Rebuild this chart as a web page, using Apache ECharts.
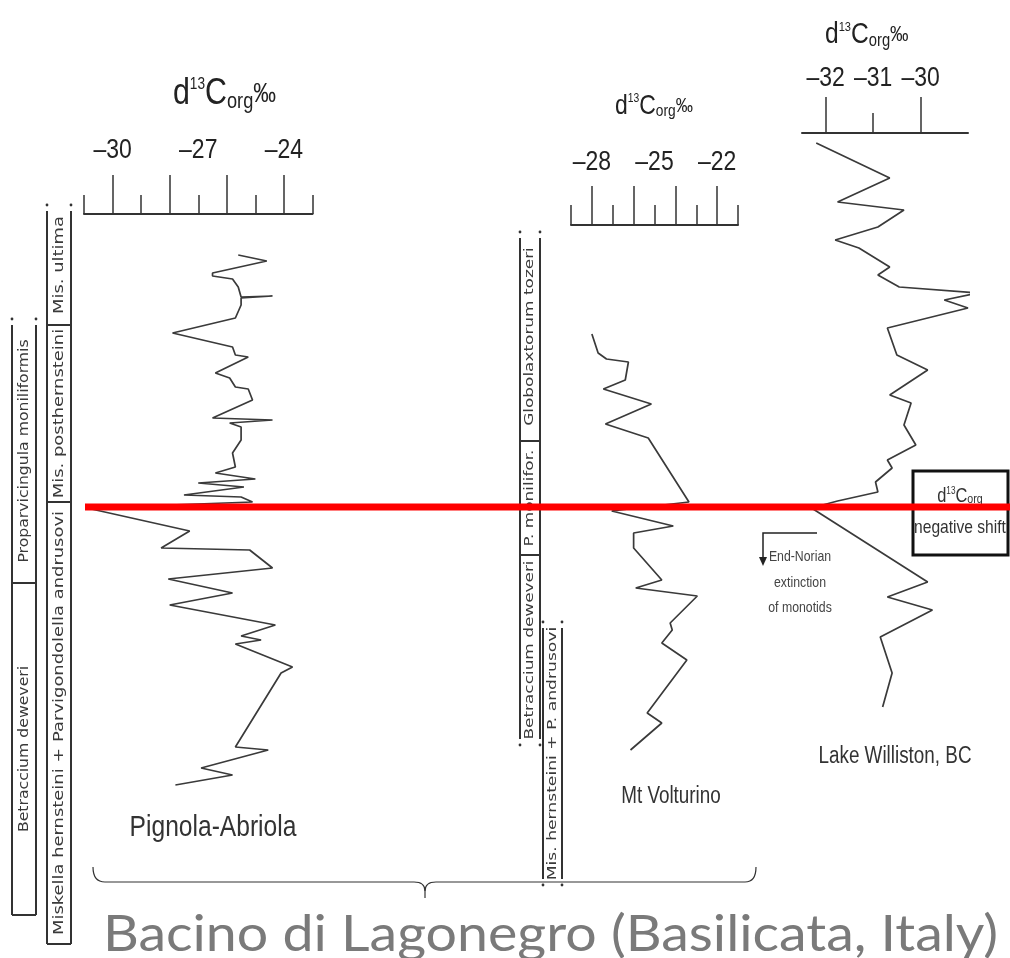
<!DOCTYPE html>
<html lang="en">
<head>
  <meta charset="UTF-8">
  <script src="https://cdn.jsdelivr.net/npm/echarts@6/dist/echarts.min.js"></script>
  <style>
    html, body { margin: 0; padding: 0; background: #fff; }
    #chart { width: 1010px; height: 958px; }
  </style>
</head>
<body>
  <div id="chart"></div>
  <script>
    // stratigraphic level: 0 = boundary (red line), positive upward, arbitrary units
    const pignolaD13C = [-25.6, -24.6, -26.5, -26.5, -25.8, -25.6, -25.5, -24.4, -25.5, -25.5, -25.7, -27.9, -25.8, -25.7, -25.25, -26.4, -25.9, -25.7, -25.25, -25.1, -26.5, -24.4, -25.9, -25.5, -25.5, -25.8, -25.7, -26.4, -25.0, -27.0, -25.4, -27.5, -25.5, -25.1, -30.9, -27.3, -28.3, -25.2, -24.4, -28.05, -25.8, -28.0, -24.3, -25.5, -24.8, -25.7, -23.7, -24.1, -25.7, -24.55, -26.9, -25.8, -27.8];
    const pignolaLevel = [25.2, 24.6, 23.4, 23.1, 22.8, 22.0, 21.0, 21.1, 20.9, 20.2, 18.9, 17.4, 16.0, 15.2, 15.0, 13.4, 12.9, 12.0, 11.8, 10.7, 8.9, 8.7, 8.4, 8.0, 6.7, 5.4, 4.0, 3.4, 2.8, 2.4, 2.0, 1.2, 1.0, 0.5, -0.1, -2.4, -4.1, -4.3, -6.1, -7.2, -8.6, -9.8, -11.8, -12.9, -13.3, -13.7, -16.0, -16.6, -24.0, -24.3, -26.1, -26.8, -27.8];

    const volturinoD13C = [-28.0, -27.7, -27.3, -26.25, -26.4, -27.45, -25.15, -27.35, -25.3, -23.35, -27.05, -24.1, -26.0, -26.0, -24.65, -25.9, -22.95, -24.25, -24.15, -24.65, -23.45, -25.35, -24.65, -26.15];
    const volturinoLevel = [17.3, 15.4, 14.8, 14.5, 12.7, 11.8, 10.3, 8.3, 6.9, 0.5, -0.4, -1.9, -2.6, -4.1, -7.3, -8.1, -8.9, -11.6, -12.3, -13.6, -15.3, -20.6, -21.6, -24.3];

    const willistonD13C = [-32.2, -30.65, -31.75, -30.35, -30.9, -31.8, -31.3, -30.65, -30.9, -30.45, -28.8, -29.5, -29.0, -30.7, -30.5, -29.85, -30.65, -30.2, -30.35, -30.1, -30.7, -30.6, -30.95, -30.9, -31.75, -32.3, -29.85, -30.7, -29.75, -30.85, -30.6, -30.8];
    const willistonLevel = [36.4, 32.9, 30.5, 29.7, 28.0, 26.7, 25.9, 24.0, 23.2, 22.0, 21.4, 20.7, 19.9, 17.9, 15.2, 13.7, 11.2, 10.4, 8.2, 6.2, 4.7, 3.9, 2.5, 1.5, 0.6, -0.1, -7.5, -9.0, -10.3, -13.0, -16.6, -20.0];

    // axis ticks and labels
    const pignolaMajor = [-30, -28, -26, -24];
    const pignolaMinor = [-31, -29, -27, -25, -23];
    const pignolaLabels = [-30, -27, -24];
    const volturinoMajor = [-28, -26, -24, -22];
    const volturinoMinor = [-29, -27, -25, -23, -21];
    const volturinoLabels = [-28, -25, -22];
    const willistonMajor = [-32, -30];
    const willistonMinor = [-31];
    const willistonLabels = [-32, -31, -30];

    // biozones: names top to bottom, boundaries as levels
    const zonesA = ['Proparvicingula moniliformis', 'Betraccium deweveri'];
    const boundsA = [18.8, -7.6, -40.8];
    const zonesB = ['Mis. ultima', 'Mis. posthernsteini', 'Miskella hernsteini + Parvigondolella andrusovi'];
    const boundsB = [30.2, 18.2, 0.5, -43.7];
    const zonesC = ['Globolaxtorum tozeri', 'P. monilifor.', 'Betraccium deweveri'];
    const boundsC = [27.5, 6.6, -4.8, -23.8];
    const zonesD = ['Mis. hernsteini + P. andrusovi'];
    const boundsD = [-11.5, -37.8];

    const shiftLevel = 0;

    const SANS = "'Liberation Sans',Arial,sans-serif";
    const NARROW_X = 0.82;   // squeeze Liberation Sans to look like a narrow face
    const INK = '#333';

    const chart = echarts.init(document.getElementById('chart'));

    function axesFor(grid, min, max, major, minor, majLen, minLen) {
      return [
        {
          type: 'value', gridIndex: grid, position: 'top', min: min, max: max,
          axisLine: { show: true, onZero: false, lineStyle: { color: INK, width: 2 } },
          axisTick: { show: true, customValues: major, length: majLen, lineStyle: { color: INK, width: 1.5 } },
          axisLabel: { show: false },
          splitLine: { show: false }
        },
        {
          type: 'value', gridIndex: grid, position: 'top', min: min, max: max,
          axisLine: { show: false, onZero: false },
          axisTick: { show: true, customValues: minor, length: minLen, lineStyle: { color: INK, width: 1.5 } },
          axisLabel: { show: false },
          splitLine: { show: false }
        }
      ];
    }

    const zip = (xs, ys) => xs.map((x, i) => [x, ys[i]]);
    const lineSeries = (xi, yi, xs, ys) => ({
      type: 'line', xAxisIndex: xi, yAxisIndex: yi, data: zip(xs, ys),
      symbol: 'none', clip: false, silent: true,
      lineStyle: { color: '#3a3a3a', width: 1.7 }
    });

    chart.setOption({
      animation: false,
      grid: [
        { left: 84, width: 228.5, top: 214, bottom: 101, outerBoundsMode: 'none' },
        { left: 571, width: 167, top: 225, bottom: 101, outerBoundsMode: 'none' },
        { left: 802, width: 166, top: 133, bottom: 101, outerBoundsMode: 'none' }
      ],
      xAxis: [].concat(
        axesFor(0, -31, -23, pignolaMajor, pignolaMinor, 39, 19),
        axesFor(1, -29, -21, volturinoMajor, volturinoMinor, 39, 20),
        axesFor(2, -32.5, -29, willistonMajor, willistonMinor, 36, 20)
      ),
      yAxis: [
        { type: 'value', gridIndex: 0, min: -35, max: 29.3, show: false },
        { type: 'value', gridIndex: 1, min: -35, max: 28.2, show: false },
        { type: 'value', gridIndex: 2, min: -35, max: 37.4, show: false }
      ],
      series: [
        lineSeries(0, 0, pignolaD13C, pignolaLevel),
        lineSeries(2, 1, volturinoD13C, volturinoLevel),
        lineSeries(4, 2, willistonD13C, willistonLevel)
      ]
    });

    const toY = lv => chart.convertToPixel({ yAxisIndex: 0 }, lv);
    const toX = (axis, v) => chart.convertToPixel({ xAxisIndex: axis }, v);

    const narrowText = (t, x, y, size, color, align) => ({
      type: 'text', x: x, y: y, scaleX: NARROW_X, silent: true,
      style: { text: t, fontSize: size, fontFamily: SANS, fill: color, align: align || 'center', verticalAlign: 'middle' }
    });

    function tickLabels(axis, values, y) {
      return values.map(v => narrowText('\u2013' + Math.abs(v), toX(axis, v), y, 28, '#222'));
    }

    function title(x, y, size) {
      return {
        type: 'text', x: x, y: y, scaleX: NARROW_X, silent: true,
        style: {
          text: '{a|d}{s|13}{a|C}{b|org}{c|‰}', align: 'left', verticalAlign: 'middle',
          rich: {
            a: { fontSize: size, fontFamily: SANS, fill: '#222', lineHeight: size },
            s: { fontSize: size * 0.45, fontFamily: SANS, fill: '#222', verticalAlign: 'top', lineHeight: size * 0.5 },
            b: { fontSize: size * 0.6, fontFamily: SANS, fill: '#222', verticalAlign: 'bottom', lineHeight: size * 0.6 },
            c: { fontSize: size * 0.75, fontFamily: SANS, fill: '#222', lineHeight: size * 0.75 }
          }
        }
      };
    }

    function column(x0, x1, names, bounds, openTop, openBottom, size, stretch) {
      const els = [];
      const ys = bounds.map(toY);
      const last = ys.length - 1;
      const yTop = openTop ? ys[0] + 6 : ys[0];
      const yBot = openBottom ? ys[last] - 6 : ys[last];
      [x0, x1].forEach(x => {
        els.push({ type: 'line', shape: { x1: x, y1: yTop, x2: x, y2: yBot }, style: { stroke: INK, lineWidth: 2 } });
        if (openTop) els.push({ type: 'circle', shape: { cx: x, cy: ys[0], r: 1.4 }, style: { fill: INK } });
        if (openBottom) els.push({ type: 'circle', shape: { cx: x, cy: ys[last], r: 1.4 }, style: { fill: INK } });
      });
      ys.forEach((y, i) => {
        if (i === 0 && openTop) return;
        if (i === last && openBottom) return;
        els.push({ type: 'line', shape: { x1: x0, y1: y, x2: x1, y2: y }, style: { stroke: INK, lineWidth: 2 } });
      });
      names.forEach((n, i) => {
        els.push({
          type: 'text', x: (x0 + x1) / 2, y: (ys[i] + ys[i + 1]) / 2, rotation: Math.PI / 2, scaleX: stretch,
          style: { text: n, fontSize: size, fontFamily: "'DejaVu Sans',sans-serif", fill: '#3a3a3a', align: 'center', verticalAlign: 'middle' }
        });
      });
      return els;
    }

    const y0 = toY(shiftLevel);
    const line = (x1, y1, x2, y2, w) => ({ type: 'line', shape: { x1: x1, y1: y1, x2: x2, y2: y2 }, style: { stroke: INK, lineWidth: w } });
    const curve = (x1, y1, cx, cy, x2, y2) => ({ type: 'bezierCurve', shape: { x1: x1, y1: y1, cpx1: cx, cpy1: cy, x2: x2, y2: y2 }, style: { stroke: INK, lineWidth: 1.2, fill: null } });

    const graphics = [].concat(
      tickLabels(0, pignolaLabels, 150),
      tickLabels(2, volturinoLabels, 162),
      tickLabels(4, willistonLabels, 78),
      [title(173, 94, 37), title(615, 106, 28), title(825, 35, 30)],
      column(12, 36, zonesA, boundsA, true, false, 14, 1.12),
      column(47, 71, zonesB, boundsB, true, false, 14, 1.28),
      column(520, 540, zonesC, boundsC, true, true, 13, 1.3),
      column(543, 562, zonesD, boundsD, true, true, 13, 1.32),
      [
        narrowText('Pignola-Abriola', 213, 828, 30, '#333'),
        narrowText('Mt Volturino', 671, 797, 23, '#333'),
        narrowText('Lake Williston, BC', 895, 757, 23, '#333'),
        // shift box
        { type: 'rect', shape: { x: 913, y: 471, width: 95, height: 84 }, style: { fill: '#fff', stroke: '#111', lineWidth: 3 } },
        {
          type: 'text', x: 960, y: 496, scaleX: NARROW_X,
          style: {
            text: '{a|d}{s|13}{a|C}{b|org}', align: 'center', verticalAlign: 'middle',
            rich: {
              a: { fontSize: 20, fontFamily: SANS, fill: '#333', lineHeight: 20 },
              s: { fontSize: 10, fontFamily: SANS, fill: '#333', verticalAlign: 'top', lineHeight: 10 },
              b: { fontSize: 13, fontFamily: SANS, fill: '#333', verticalAlign: 'bottom', lineHeight: 13 }
            }
          }
        },
        narrowText('negative shift', 960, 528, 19, '#333'),
        // end-Norian arrow
        { type: 'polyline', shape: { points: [[817, 533], [763, 533], [763, 560]] }, style: { stroke: '#222', lineWidth: 1.5, fill: null } },
        { type: 'polygon', shape: { points: [[759, 557], [767, 557], [763, 566]] }, style: { fill: '#222' } },
        narrowText('End-Norian', 800, 557, 15, '#444'),
        narrowText('extinction', 800, 583, 15, '#444'),
        narrowText('of monotids', 800, 608, 15, '#444'),
        // brace
        curve(93, 867, 93, 882, 105, 882),
        line(105, 882, 414, 882, 1.2),
        curve(414, 882, 425, 882, 425, 891),
        curve(436, 882, 425, 882, 425, 891),
        line(425, 891, 425, 898, 1.2),
        line(436, 882, 745, 882, 1.2),
        curve(745, 882, 756, 882, 756, 867),
        {
          type: 'text', x: 103, y: 935, scaleX: 1.11,
          style: { text: 'Bacino di Lagonegro (Basilicata, Italy)', fontSize: 50, fontFamily: "Lato,'Open Sans',sans-serif",
            fill: '#7a7a7a', align: 'left', verticalAlign: 'middle' }
        },
        // boundary line
        { type: 'line', z: 100, shape: { x1: 85, y1: y0, x2: 1010, y2: y0 }, style: { stroke: '#ff0000', lineWidth: 7 } }
      ]
    );

    chart.setOption({ graphic: { elements: graphics } });
  </script>
</body>
</html>
